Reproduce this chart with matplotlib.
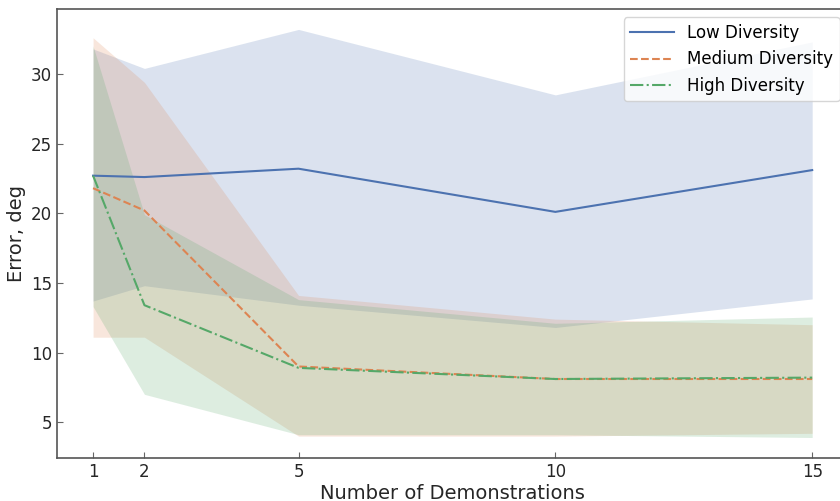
import numpy as np
import matplotlib
matplotlib.use("Agg")
import matplotlib.pyplot as plt

# number of demonstrations
demos = [1, 2, 5, 10, 15]

# mean error per diversity level
low_mean = [22.7, 22.6, 23.2, 20.1, 23.1]
med_mean = [21.8, 20.2, 9.0, 8.1, 8.1]
high_mean = [22.7, 13.4, 8.9, 8.1, 8.2]

# spread bands (lower / upper)
low_lo = [13.7, 14.8, 13.4, 11.8, 13.85]
low_hi = [31.8, 30.4, 33.2, 28.5, 32.3]
med_lo = [11.1, 11.1, 4.0, 4.0, 4.2]
med_hi = [32.6, 29.4, 14.1, 12.4, 12.0]
high_lo = [13.3, 7.0, 4.1, 4.1, 3.9]
high_hi = [32.0, 19.9, 13.8, 12.1, 12.55]

labels = ["Low Diversity", "Medium Diversity", "High Diversity"]
colors = ["#4C72B0", "#DD8452", "#55A868"]
styles = ["-", "--", "-."]

fig = plt.figure(figsize=(8.4, 5.01), dpi=100)
ax = fig.add_axes([0.068, 0.086, 0.9417, 0.896])

means = [low_mean, med_mean, high_mean]
los = [low_lo, med_lo, high_lo]
his = [low_hi, med_hi, high_hi]

for m, lo, hi, c, ls, lab in zip(means, los, his, colors, styles, labels):
    ax.plot(demos, m, ls, color=c, lw=1.5, label=lab)
    ax.fill_between(demos, lo, hi, color=c, alpha=0.2, lw=0)

ax.set_xticks(demos)
ax.set_yticks([5, 10, 15, 20, 25, 30])
ax.tick_params(direction="in", length=4, width=0.8, color="#666666",
               labelsize=12, labelcolor="#262626")
for s in ax.spines.values():
    s.set_color("#555555")
    s.set_linewidth(1.2)

ax.set_xlabel("Number of Demonstrations", fontsize=14, color="#262626", labelpad=2)
ax.set_ylabel("Error, deg", fontsize=14, color="#262626", labelpad=4)

leg = ax.legend(loc="upper right", fontsize=12, framealpha=0.8,
                edgecolor="#cccccc", handlelength=2.6)

fig.savefig("out.png", dpi=100)
